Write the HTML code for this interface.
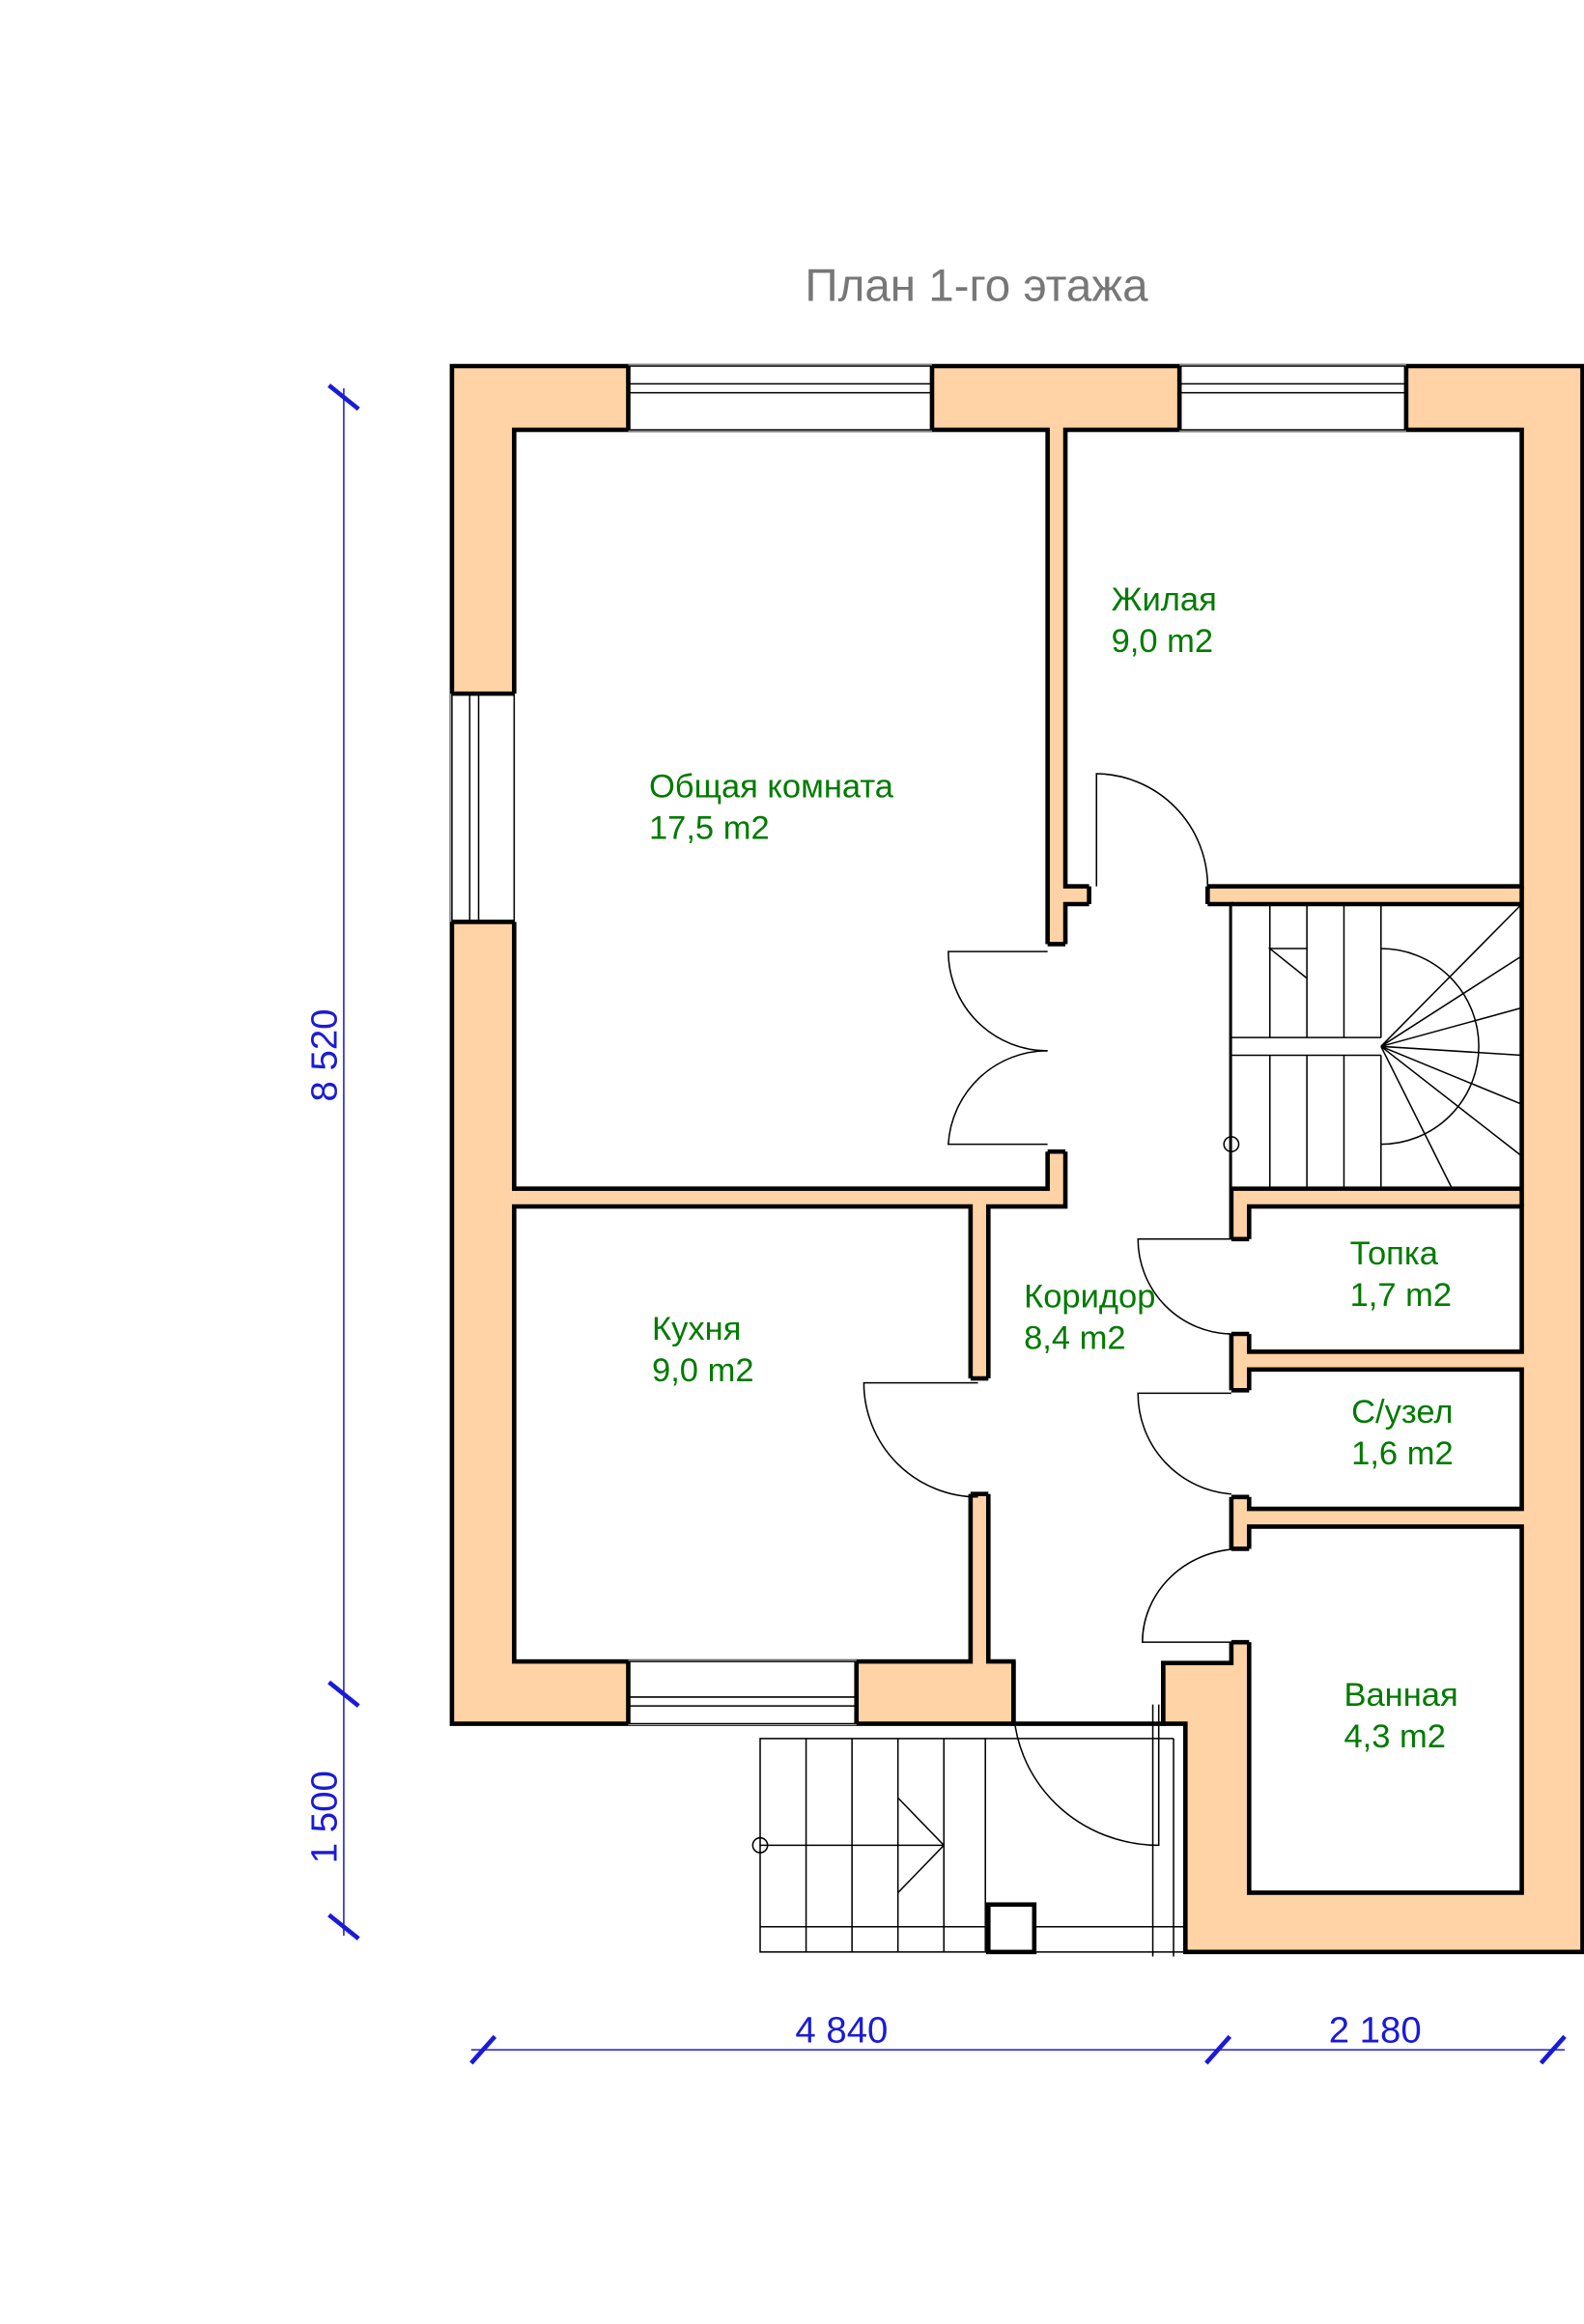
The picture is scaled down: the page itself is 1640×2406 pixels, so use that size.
<!DOCTYPE html>
<html><head><meta charset="utf-8"><style>
html,body{margin:0;padding:0;background:#fff}
svg{display:block}
.lbl{font-family:"Liberation Sans",sans-serif;font-size:22.5px;fill:#007a00}
.dim{font-family:"Liberation Sans",sans-serif;font-size:25px;fill:#1a1ad8}
</style></head><body>
<svg width="1640" height="2406" viewBox="0 0 1069 1568" preserveAspectRatio="none" xmlns="http://www.w3.org/2000/svg">
<rect width="1069" height="1568" fill="#fff"/>
<text x="659" y="203" text-anchor="middle" font-family="Liberation Sans,sans-serif" font-size="31" fill="#777">План 1-го этажа</text>

<g fill="#FFD3A5">
<rect x="305" y="247" width="763" height="43"/>
<rect x="305" y="247" width="42" height="916"/>
<rect x="1027" y="247" width="41" height="1070"/>
<rect x="305" y="1121" width="379" height="42"/>
<rect x="707" y="290" width="12" height="524"/>
<rect x="347" y="802" width="372" height="12"/>
<rect x="655" y="814" width="12" height="307"/>
<rect x="707" y="598" width="320" height="12"/>
<rect x="831" y="802" width="12" height="320"/>
<rect x="831" y="802" width="196" height="12"/>
<rect x="831" y="912" width="196" height="12"/>
<rect x="831" y="1018" width="196" height="12"/>
<rect x="785" y="1122" width="58" height="41"/>
<rect x="800" y="1122" width="43" height="195"/>
<rect x="800" y="1277" width="268" height="40"/>
</g>

<g fill="#fff" stroke="#000" stroke-width="3">
<rect x="347" y="290" width="360" height="512"/>
<rect x="719" y="290" width="308" height="308"/>
<rect x="347" y="814" width="308" height="307"/>
<rect x="843" y="814" width="184" height="98"/>
<rect x="843" y="924" width="184" height="94"/>
<rect x="843" y="1030" width="184" height="247"/>
</g>
<path d="M719,610 H831 V1122 H785 V1163 H684 V1121 H667 V814 H719 Z" fill="#fff" stroke="#000" stroke-width="3"/>
<rect x="831" y="610" width="196" height="192" fill="#fff"/>
<line x1="831" y1="610" x2="1027" y2="610" stroke="#000" stroke-width="3"/>
<line x1="831" y1="802" x2="1027" y2="802" stroke="#000" stroke-width="3"/>
<line x1="1027" y1="598" x2="1027" y2="814" stroke="#000" stroke-width="3"/>
<path d="M684,1121 V1163 H305 V247 H1068 V1317 H800 V1163 H785 V1122" fill="none" stroke="#000" stroke-width="3"/>

<g stroke="#000" stroke-width="1" fill="#fff">
<rect x="424" y="246" width="205" height="45" stroke="none"/>
<rect x="796" y="246" width="153" height="45" stroke="none"/>
<rect x="304" y="468" width="45" height="154" stroke="none"/>
<rect x="424" y="1120" width="154" height="44" stroke="none"/>
<line x1="424" y1="247" x2="629" y2="247"/><line x1="424" y1="259" x2="629" y2="259"/><line x1="424" y1="265" x2="629" y2="265"/><line x1="424" y1="290" x2="629" y2="290"/>
<line x1="796" y1="247" x2="949" y2="247"/><line x1="796" y1="259" x2="949" y2="259"/><line x1="796" y1="265" x2="949" y2="265"/><line x1="796" y1="290" x2="949" y2="290"/>
<line x1="305" y1="468" x2="305" y2="622"/><line x1="317" y1="468" x2="317" y2="622"/><line x1="323" y1="468" x2="323" y2="622"/><line x1="347" y1="468" x2="347" y2="622"/>
<line x1="424" y1="1121" x2="578" y2="1121"/><line x1="424" y1="1145" x2="578" y2="1145"/><line x1="424" y1="1151" x2="578" y2="1151"/><line x1="424" y1="1163" x2="578" y2="1163"/>
</g>
<g stroke="#000" stroke-width="3">
<line x1="424" y1="247" x2="424" y2="290"/><line x1="629" y1="247" x2="629" y2="290"/>
<line x1="796" y1="247" x2="796" y2="290"/><line x1="949" y1="247" x2="949" y2="290"/>
<line x1="305" y1="468" x2="347" y2="468"/><line x1="305" y1="622" x2="347" y2="622"/>
<line x1="424" y1="1121" x2="424" y2="1163"/><line x1="578" y1="1121" x2="578" y2="1163"/>
</g>

<g fill="#fff">
<rect x="735" y="596" width="80" height="16"/>
<rect x="705" y="637" width="16" height="140"/>
<rect x="653" y="930" width="16" height="78"/>
<rect x="829" y="836" width="16" height="64"/>
<rect x="829" y="938" width="16" height="72"/>
<rect x="829" y="1045" width="16" height="63"/>
</g>
<g stroke="#000" stroke-width="3" fill="none">
<path d="M735,598 V610 M815,598 V610"/>
<path d="M707,637 H719 M707,777 H719"/>
<path d="M655,930 H667 M655,1008 H667"/>
<path d="M831,836 H843 M831,900 H843 M831,938 H843 M831,1010 H843 M831,1045 H843 M831,1108 H843"/>
</g>
<g stroke="#000" stroke-width="1" fill="none">
<path d="M740,598 V522 A76,76 0 0 1 815,598"/>
<path d="M707,642 H640 A67,67 0 0 0 707,709"/>
<path d="M707,772 H640 A67,67 0 0 1 707,709"/>
<path d="M660,933 H583 A77,77 0 0 0 660,1010"/>
<path d="M831,836 H768 A64,64 0 0 0 831,900"/>
<path d="M831,940 H768 A68,68 0 0 0 831,1008"/>
<path d="M838,1045 A67,63 0 0 0 771,1108 H838"/>
<path d="M782,1150 V1245 A98,95 0 0 1 684,1150"/>
<path d="M778,1150 V1320 M792,1173 V1320"/>
</g>

<g stroke="#000" stroke-width="1" fill="none">
<line x1="831" y1="610" x2="831" y2="802"/>
<line x1="831" y1="700" x2="932" y2="700"/><line x1="831" y1="712" x2="932" y2="712"/>
<path d="M857,610 V700 M882,610 V700 M907,610 V700 M932,610 V700"/>
<path d="M857,712 V802 M882,712 V802 M907,712 V802 M932,712 V802"/>
<path d="M932,640 A66,66 0 0 1 932,772"/>
<path d="M932,706 L1027,610 M932,706 L1027,645 M932,706 L1027,680 M932,706 L1027,712 M932,706 L1027,745 M932,706 L1027,780 M932,706 L980,802"/>
<path d="M882,640 L857,640 L882,660"/>
<circle cx="831" cy="772" r="5"/>
</g>

<g stroke="#000" stroke-width="1" fill="none">
<rect x="513" y="1173" width="152" height="144"/>
<path d="M544,1173 V1317 M575,1173 V1317 M606,1173 V1317 M637,1173 V1317"/>
<line x1="513" y1="1245" x2="637" y2="1245"/>
<path d="M606,1213 L637,1245 L606,1277"/>
<circle cx="513" cy="1245" r="5"/>
<line x1="513" y1="1300" x2="800" y2="1300"/><line x1="665" y1="1317" x2="800" y2="1317"/>
<line x1="665" y1="1173" x2="792" y2="1173"/>
</g>
<rect x="667" y="1285" width="31" height="32" fill="#fff" stroke="#000" stroke-width="3"/>

<text class="lbl" x="438" y="538">Общая комната</text><text class="lbl" x="438" y="566">17,5 m2</text>
<text class="lbl" x="750" y="412">Жилая</text><text class="lbl" x="750" y="440">9,0 m2</text>
<text class="lbl" x="440" y="904">Кухня</text><text class="lbl" x="440" y="932">9,0 m2</text>
<text class="lbl" x="691" y="882">Коридор</text><text class="lbl" x="691" y="910">8,4 m2</text>
<text class="lbl" x="911" y="853">Топка</text><text class="lbl" x="911" y="881">1,7 m2</text>
<text class="lbl" x="912" y="960">С/узел</text><text class="lbl" x="912" y="988">1,6 m2</text>
<text class="lbl" x="907" y="1151">Ванная</text><text class="lbl" x="907" y="1179">4,3 m2</text>

<g stroke="#1a1ad8" fill="none">
<line x1="232" y1="262" x2="232" y2="1306" stroke-width="1"/>
<g stroke-width="3">
<line x1="222" y1="260" x2="242" y2="276"/><line x1="222" y1="1135" x2="242" y2="1151"/><line x1="222" y1="1292" x2="242" y2="1308"/>
</g>
<line x1="318" y1="1383" x2="1056" y2="1383" stroke-width="1"/>
<g stroke-width="3">
<line x1="318" y1="1392" x2="334" y2="1374"/><line x1="814" y1="1392" x2="830" y2="1374"/><line x1="1040" y1="1392" x2="1056" y2="1374"/>
</g>
</g>
<text class="dim" transform="translate(227,712) rotate(-90)" text-anchor="middle">8 520</text>
<text class="dim" transform="translate(227,1226) rotate(-90)" text-anchor="middle">1 500</text>
<text class="dim" x="568" y="1378" text-anchor="middle">4 840</text>
<text class="dim" x="928" y="1378" text-anchor="middle">2 180</text>
</svg>
</body></html>
